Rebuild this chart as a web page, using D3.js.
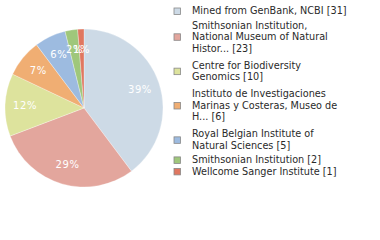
<!DOCTYPE html>
<html><head><meta charset="utf-8">
<script src="https://cdn.jsdelivr.net/npm/d3@7"></script>
<style>html,body{margin:0;padding:0;background:#fff;}svg{display:block;}</style>
</head><body>
<svg id="chart" width="380" height="240"></svg>
<script>
const labels = [
  ["Mined from GenBank, NCBI [31]"],
  ["Smithsonian Institution,", "National Museum of Natural", "Histor... [23]"],
  ["Centre for Biodiversity", "Genomics [10]"],
  ["Instituto de Investigaciones", "Marinas y Costeras, Museo de", "H... [6]"],
  ["Royal Belgian Institute of", "Natural Sciences [5]"],
  ["Smithsonian Institution [2]"],
  ["Wellcome Sanger Institute [1]"]
];
const values = [31, 23, 10, 6, 5, 2, 1];
const colors = ["#cddae6", "#e3a69d", "#dde39d", "#f0ae73", "#9dbbe0", "#9fc77b", "#e07760"];

const svg = d3.select("#chart");
const cx = 84, cy = 108, R = 79;
const total = d3.sum(values);
const pie = d3.pie().sort(null).value(d => d)(values);
const arc = d3.arc().innerRadius(0).outerRadius(R);
const labelArc = d3.arc().innerRadius(59).outerRadius(59);
const g = svg.append("g").attr("transform", `translate(${cx},${cy})`);
g.selectAll("path").data(pie).join("path")
  .attr("d", arc).attr("fill", (d, i) => colors[i])
  .attr("stroke", "#fff").attr("stroke-width", 0.3);
g.selectAll("text").data(pie).join("text")
  .attr("transform", d => `translate(${labelArc.centroid(d)})`)
  .attr("text-anchor", "middle").attr("dy", "0.35em")
  .attr("font-family", "DejaVu Sans").attr("font-size", 10)
  .attr("letter-spacing", 0.6)
  .attr("fill", "#fff")
  .text(d => Math.floor(d.data / total * 100) + "%");

// legend
const lineH = 11.5, pad = 2.8;
const lg = svg.append("g");
let y = 11;
labels.forEach((lines, i) => {
  const multi = lines.length > 1;
  if (i > 0) {
    y += lineH;
    if (multi || labels[i - 1].length > 1) y += pad;
    if (multi && labels[i - 1].length > 1) y += pad;
  }
  const first = y;
  lines.forEach((t, j) => {
    lg.append("text").attr("x", 192).attr("y", y + j * lineH).attr("dy", "0.35em")
      .attr("font-family", "DejaVu Sans").attr("font-size", 9.7).attr("fill", "#2a2a2a")
      .text(t);
  });
  const last = y + (lines.length - 1) * lineH;
  const mid = (first + last) / 2;
  lg.append("rect").attr("x", 174).attr("y", mid - 3).attr("width", 6.5).attr("height", 6.5)
    .attr("fill", colors[i]).attr("stroke", "#888").attr("stroke-width", 0.8);
  y = last;
});
</script>
</body></html>
